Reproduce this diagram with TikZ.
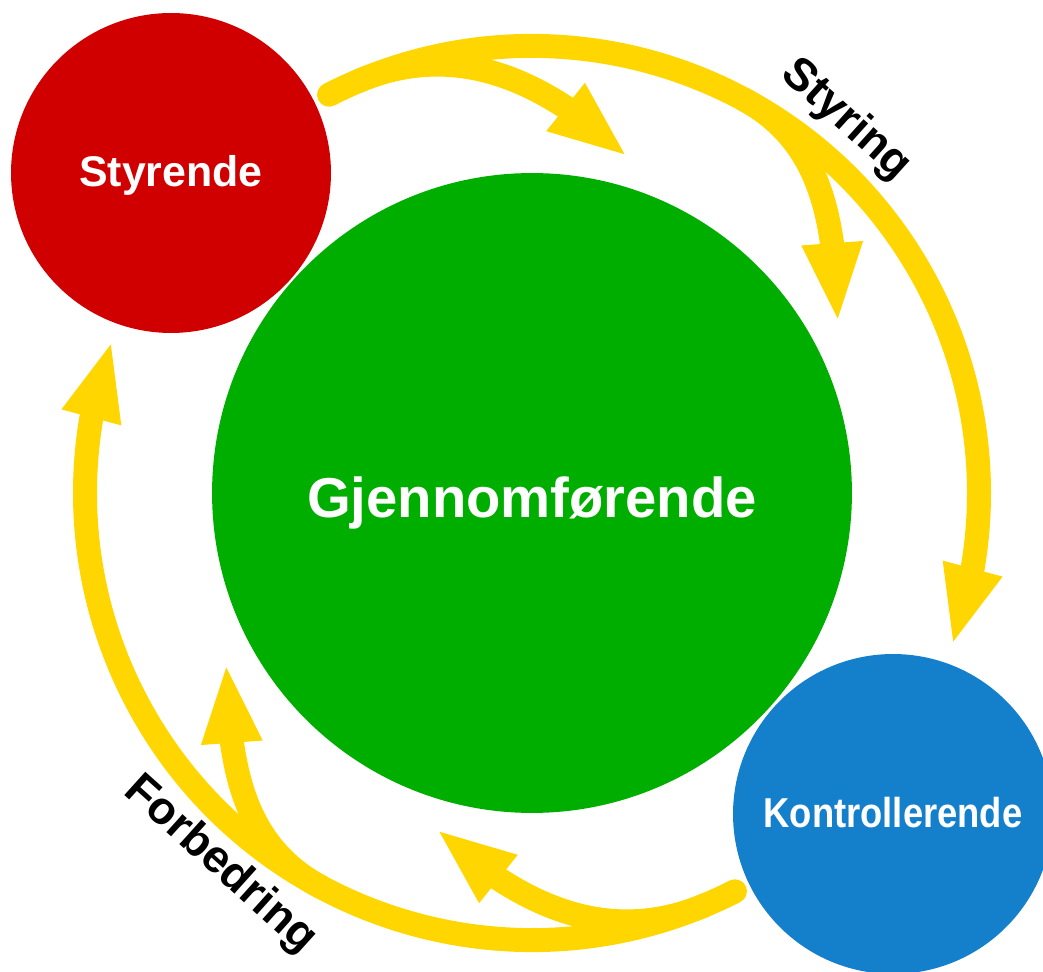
\documentclass[tikz,border=0pt]{standalone}
\usepackage{fontspec}
\setmainfont{Liberation Sans}
\usetikzlibrary{arrows.meta,bending}

\definecolor{red1}{RGB}{208,0,0}
\definecolor{green1}{RGB}{0,174,0}
\definecolor{blue1}{RGB}{20,128,204}
\definecolor{gold1}{RGB}{255,214,0}

\tikzstyle{role} = [circle, inner sep=0pt, minimum size=6.4cm]
\tikzstyle{roletext} = [text=white, inner sep=0pt, anchor=base, font=\bfseries]
\tikzstyle{looptext} = [text=black, inner sep=0pt, rotate=-42, font=\bfseries\fontsize{26}{28}\selectfont]
\tikzstyle{flow} = [draw=gold1, line width=0.48cm, -{Triangle[length=1.6cm, width=1.1cm]}]

\begin{document}
\begin{tikzpicture}[x=0.02cm, y=0.02cm]
    \path[use as bounding box, clip] (-532,-479) rectangle (511,493);

    % circles
    \node[role, fill=green1, minimum size=12.8cm] (gjennom) at (0,0) {};
    \node[role, fill=red1] (styrende) at (-361,320) {};
    \node[role, fill=blue1] (kontroll) at (361,-321) {};

    % circle texts
    \node[roletext] (styrendetext) at ([yshift=-0.28cm]styrende.center)
        {\fontsize{24.4}{27}\selectfont Styrende};
    \node[roletext] (gjennomtext) at ([yshift=-0.50cm]gjennom.center)
        {\fontsize{32}{35}\selectfont Gjennomførende};
    \node[roletext] (kontrolltext) at ([yshift=-0.27cm]kontroll.center)
        {\fontsize{23.8}{26}\selectfont\scalebox{0.87}[1]{Kontrollerende}};

    % arrows (the lower half is the upper half turned round)
    \foreach \r in {0,180} {
        \begin{scope}[rotate=\r]
            \coordinate (start\r) at (117:447);
            \coordinate (forka\r) at (113:447);
            \coordinate (forkb\r) at (62:447);
            \coordinate (tipa\r) at (96,336);
            \coordinate (tipb\r) at (306,170);
            \draw[flow, line cap=round] (start\r) arc[start angle=117, end angle=-20, radius=447];
            \draw[flow] (forka\r) to[out=23, in=137] (tipa\r);
            \draw[flow] (forkb\r) to[out=-28, in=92] (tipb\r);
        \end{scope}
    }

    % loop texts
    \node[looptext] (styring) at (314,373) {Styring};
    \node[looptext] (forbedring) at (-312,-372) {Forbedring};
\end{tikzpicture}
\end{document}
